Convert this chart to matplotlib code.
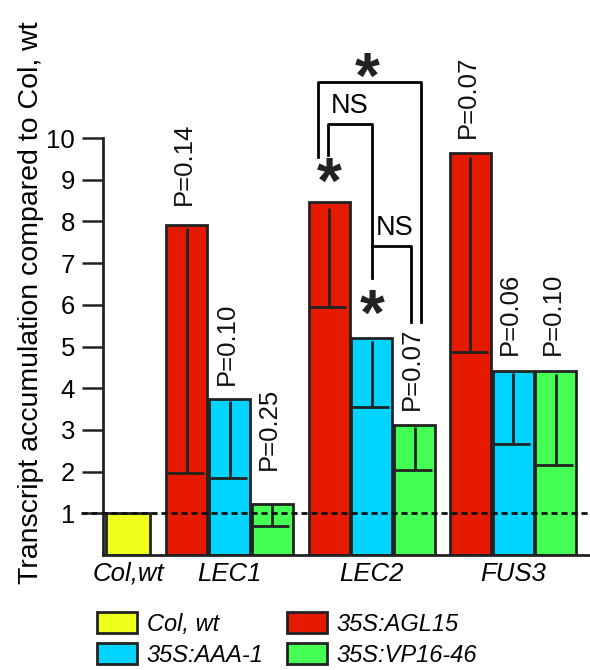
import matplotlib
matplotlib.use('Agg')
import matplotlib.pyplot as plt
from matplotlib.patches import Patch

plt.rcParams['font.family'] = ['Liberation Sans', 'DejaVu Sans']

# data
genes = ['LEC1', 'LEC2', 'FUS3']
col_wt = 1.0
agl15 = [7.92, 8.47, 9.64]
agl15_lo = [1.96, 5.95, 4.87]
agl15_hi = [7.85, 8.32, 9.55]
aaa1 = [3.74, 5.20, 4.41]
aaa1_lo = [1.85, 3.55, 2.66]
aaa1_hi = [3.70, 5.12, 4.36]
vp16 = [1.22, 3.12, 4.41]
vp16_lo = [0.70, 2.04, 2.16]
vp16_hi = [1.20, 3.08, 4.34]
pvals = [['P=0.14', 'P=0.10', 'P=0.25'],
         ['', '', 'P=0.07'],
         ['P=0.07', 'P=0.06', 'P=0.10']]
p_bottom = [[8.39, 4.08, 2.04],
            [0, 0, 3.48],
            [10.0, 4.80, 4.80]]

yellow = '#eeff1a'
red = '#e61a00'
blue = '#00d4ff'
green = '#46ff55'
edge = '#222222'

fig = plt.figure(figsize=(5.9, 6.7), dpi=100)
ax = fig.add_axes([103 / 590, 115 / 670, 487 / 590, 555 / 670])

group_x = [2.38, 5.71, 9.02]
w = 0.96

ax.bar(0, col_wt, width=1.03, color=yellow, edgecolor=edge, linewidth=2.0, zorder=2)

series = [(agl15, agl15_lo, agl15_hi, red, -1.0),
          (aaa1, aaa1_lo, aaa1_hi, blue, 0.0),
          (vp16, vp16_lo, vp16_hi, green, 1.0)]
for j, (vals, lo, hi, c, off) in enumerate(series):
    xs = [g + off for g in group_x]
    ax.bar(xs, vals, width=w, color=c, edgecolor=edge, linewidth=2.0, zorder=2)
    ax.vlines(xs, lo, hi, color=edge, linewidth=2.0, zorder=3)
    ax.hlines(lo, [x - w / 2 + 0.02 for x in xs], [x + w / 2 - 0.08 for x in xs],
              color=edge, linewidth=2.0, zorder=3)
    for i, x in enumerate(xs):
        if pvals[i][j]:
            ax.text(x - 0.07, p_bottom[i][j], pvals[i][j], rotation=90,
                    ha='center', va='bottom', fontsize=18.5, color='#111111')

# reference line at 1
ax.plot([-1.10, 10.82], [1, 1], color='#111111', linewidth=2.0,
        linestyle=(0, (2.2, 1.4)), clip_on=False, zorder=4)

# significance brackets
bk = dict(color='black', linewidth=2.0, zorder=3)
ax.plot([4.45, 4.45, 6.86, 6.86], [9.54, 11.34, 11.34, 5.59], **bk)
ax.plot([4.68, 4.68, 5.71, 5.71], [9.59, 10.34, 10.34, 6.64], **bk)
ax.plot([5.71, 6.63, 6.63], [7.41, 7.41, 5.59], **bk)
ax.text(5.18, 10.77, 'NS', ha='center', va='center', fontsize=19.5)
ax.text(6.25, 7.85, 'NS', ha='center', va='center', fontsize=19.5)
star = dict(ha='center', va='center', fontsize=46, fontweight='bold', color='#222222')
ax.text(5.60, 11.36, '*', **star)
ax.text(4.71, 8.86, '*', **star)
ax.text(5.71, 5.70, '*', **star)

ax.set_xlim(-0.585, 10.82)
ax.set_ylim(0, 555 / 41.7)
ax.spines['top'].set_visible(False)
ax.spines['right'].set_visible(False)
ax.spines['left'].set_bounds(0, 10)
for s in ['left', 'bottom']:
    ax.spines[s].set_linewidth(2.0)
    ax.spines[s].set_color('#222222')

ax.set_yticks(range(1, 11))
ax.tick_params(axis='y', length=15, width=1.8, pad=5, labelsize=18.5, color='#222222')
ax.set_xticks([0] + group_x)
ax.set_xticklabels(['Col,wt'] + genes, fontstyle='italic', fontsize=18.5)
ax.tick_params(axis='x', length=0, pad=5)

fig.text(31 / 590, 1 - 303 / 670, 'Transcript accumulation compared to Col, wt',
         rotation=90, ha='center', va='center', fontsize=20.5)

handles = [Patch(facecolor=yellow, edgecolor=edge, linewidth=2.0, label='Col, wt'),
           Patch(facecolor=blue, edgecolor=edge, linewidth=2.0, label='35S:AAA-1'),
           Patch(facecolor=red, edgecolor=edge, linewidth=2.0, label='35S:AGL15'),
           Patch(facecolor=green, edgecolor=edge, linewidth=2.0, label='35S:VP16-46')]
leg = fig.legend(handles=handles, ncol=2, loc='upper left',
                 bbox_to_anchor=(97 / 590, 1 - 612 / 670), frameon=False,
                 borderpad=0, borderaxespad=0, handlelength=1.7, handleheight=1.0,
                 handletextpad=0.4, labelspacing=0.32, columnspacing=1.0,
                 prop={'size': 17, 'style': 'italic'})

fig.savefig('out.png', dpi=100)
